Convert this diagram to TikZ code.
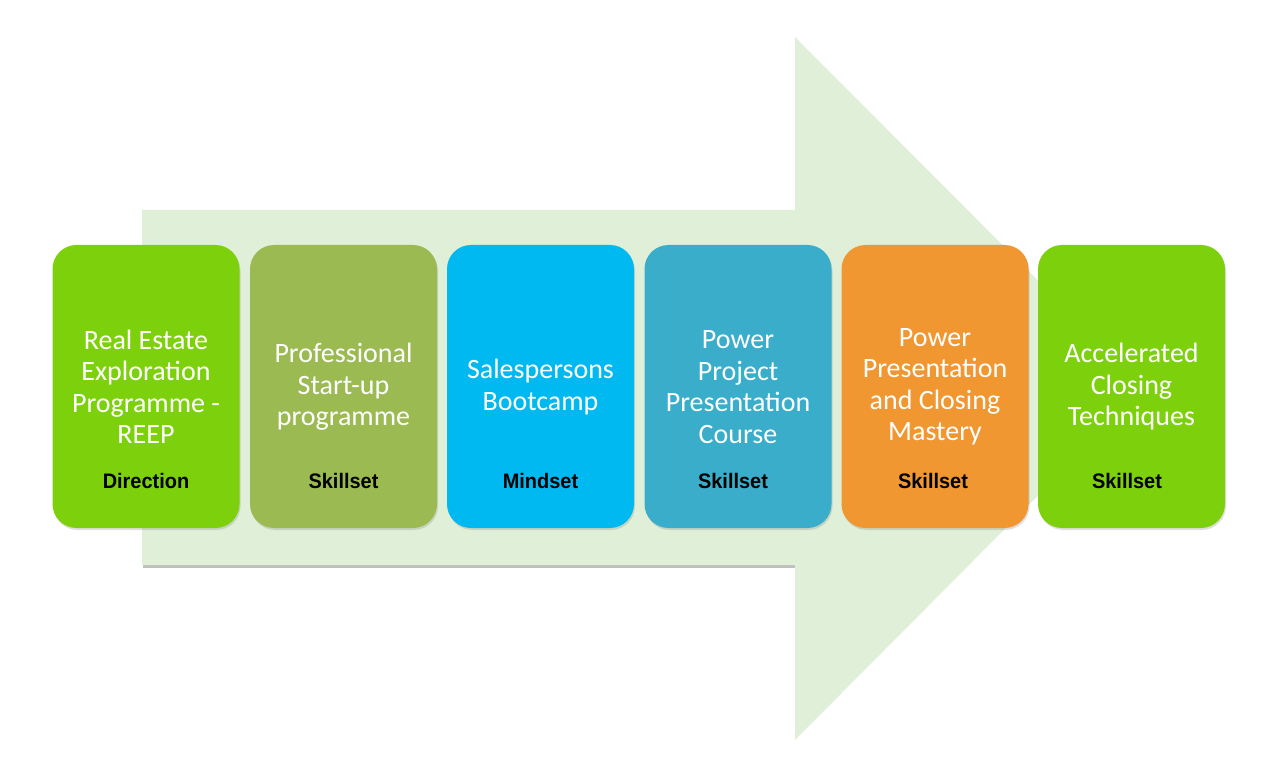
\documentclass[tikz,border=0pt]{standalone}
\usepackage{fontspec}
\setmainfont{Carlito}
\newfontfamily\labfont{Liberation Sans}
\usetikzlibrary{shadows}
\definecolor{arrowgreen}{HTML}{E0EFD8}
\definecolor{cA}{HTML}{7DD10C}
\definecolor{cB}{HTML}{9BBB52}
\definecolor{cC}{HTML}{00B9F0}
\definecolor{cD}{HTML}{3AADCA}
\definecolor{cE}{HTML}{F19731}
\definecolor{cF}{HTML}{7DD10C}
\tikzset{
  stagebox/.style={rounded corners=24pt, minimum width=187pt, minimum height=283pt,
    inner sep=0pt, draw=none, drop shadow={shadow xshift=1pt, shadow yshift=-2pt, opacity=0.25}},
  stagetext/.style={text=white, align=center, font=\fontsize{28}{31.5}\selectfont},
  stagelabel/.style={text=black, font=\labfont\bfseries\fontsize{21}{24}\selectfont, xscale=0.95}
}
\begin{document}
\begin{tikzpicture}[x=1pt,y=-1pt]
\useasboundingbox (0,0) rectangle (1280,783);
\fill[white] (0,0) rectangle (1280,783);
% shadow of the shaft
\fill[black!25] (143,212) rectangle (796,568);
% big arrow
\fill[arrowgreen] (142,210) -- (795,210) -- (795,37) -- (1145,388) -- (795,740) -- (795,565) -- (142,565) -- cycle;
% boxes
\node[stagebox, fill=cA] (b1) at (146,386.5) {};
\node[stagebox, fill=cB] (b2) at (343.5,386.5) {};
\node[stagebox, fill=cC] (b3) at (540.5,386.5) {};
\node[stagebox, fill=cD] (b4) at (738,386.5) {};
\node[stagebox, fill=cE] (b5) at (935,386.5) {};
\node[stagebox, fill=cF] (b6) at (1131.5,386.5) {};
% texts
\node[stagetext] (t1) at (146,387) {Real Estate\\Exploration\\Programme -\\REEP};
\node[stagetext] (t2) at (343.5,387) {Professional\\Start-up\\programme};
\node[stagetext] (t3) at (540.5,387) {Salespersons\\Bootcamp};
\node[stagetext] (t4) at (738,387) {Power\\Project\\Presentation\\Course};
\node[stagetext] (t5) at (935,387) {Power\\Presentation\\and Closing\\Mastery};
\node[stagetext] (t6) at (1131.5,387) {Accelerated\\Closing\\Techniques};
% labels
\node[stagelabel] (l1) at (146,481) {Direction};
\node[stagelabel] (l2) at (343.5,481) {Skillset};
\node[stagelabel] (l3) at (540.5,481) {Mindset};
\node[stagelabel] (l4) at (733,481) {Skillset};
\node[stagelabel] (l5) at (933,481) {Skillset};
\node[stagelabel] (l6) at (1127,481) {Skillset};
\end{tikzpicture}
\end{document}
